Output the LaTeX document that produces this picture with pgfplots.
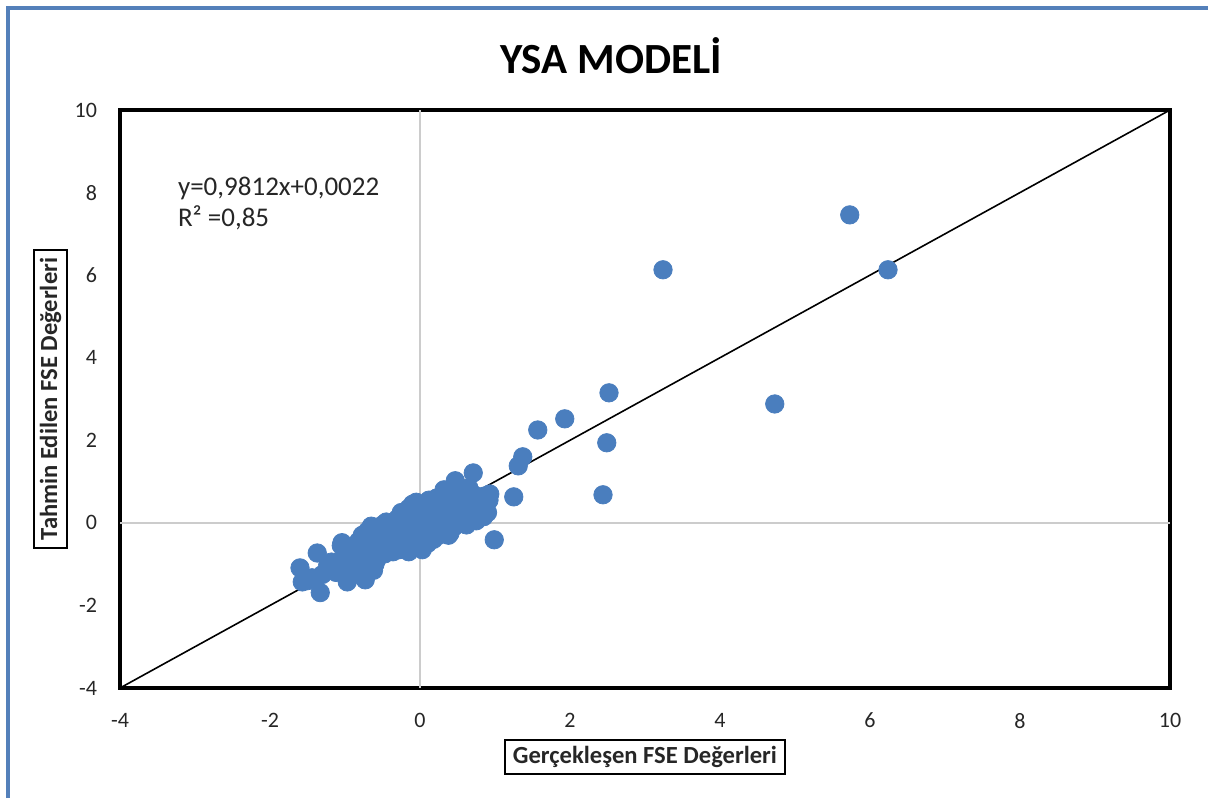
\documentclass[border=0pt]{standalone}
\usepackage{pgfplots}
\pgfplotsset{compat=1.18}
\usepackage{fontspec}
\setmainfont{Carlito}
\definecolor{ptblue}{RGB}{74,126,190}
\definecolor{frameblue}{RGB}{84,128,186}
\begin{document}
\begin{tikzpicture}
\begin{axis}[
  scale only axis, width=525pt, height=289pt,
  xmin=-4, xmax=10, ymin=-4, ymax=10,
  xtick={-4,-2,...,10}, ytick={-4,-2,...,10},
  major tick length=0pt,
  axis line style={line width=2.4pt, black},
  tick label style={font=\fontsize{11}{13}\selectfont, text=black!85},
  /pgf/number format/assume math mode=true,
  xticklabel style={yshift=-9pt},
  yticklabel style={xshift=-8pt},
  clip=false,
]
\addplot[gray!40, line width=0.8pt] coordinates {(0,-4) (0,10)};
\addplot[gray!40, line width=0.8pt] coordinates {(-4,0) (10,0)};
\addplot[only marks, mark=*, mark size=4.6pt, mark options={fill=ptblue, draw=ptblue}] coordinates {
(5.73,7.46) (6.24,6.13) (3.24,6.13) (4.73,2.88) (2.52,3.15) (2.49,1.94) (2.44,0.68)
(1.93,2.52) (1.57,2.25) (1.37,1.60) (1.31,1.38) (1.25,0.63) (0.99,-0.41)
(-1.60,-1.09) (-1.37,-0.73) (-1.33,-1.69) (-1.57,-1.43) (-1.44,-1.33) (-1.23,-1.02)
(-1.04,-0.48) (-1.30,-1.25) (-1.18,-0.95) (-1.50,-1.40)
(-1.05,-0.55) (-0.98,-0.62) (-0.92,-0.58) (-1.02,-0.85) (-0.95,-0.95) (-1.08,-1.05)
(-0.90,-1.10) (-0.97,-1.43) (-1.12,-1.20) (-0.86,-0.75) (-0.88,-1.25)
(-0.82,-0.45) (-0.78,-0.62) (-0.75,-0.85) (-0.80,-1.00) (-0.73,-1.38) (-0.72,-1.10)
(-0.77,-0.30) (-0.70,-0.20) (-0.68,-0.50) (-0.70,-0.70) (-0.74,-0.95)
(-0.65,-0.08) (-0.62,-0.30) (-0.60,-0.55) (-0.63,-0.75) (-0.58,-0.90) (-0.55,-0.12)
(-0.52,-0.40) (-0.50,-0.65) (-0.56,-0.80) (-0.60,-1.00) (-0.50,-0.05) (-0.53,-0.25)
(-0.45,0.02) (-0.43,-0.20) (-0.42,-0.45) (-0.40,-0.62) (-0.47,-0.75) (-0.38,-0.10)
(-0.35,-0.35) (-0.33,-0.55) (-0.36,-0.70) (-0.30,0.10) (-0.32,-0.25) (-0.30,-0.48) (-0.28,-0.65)
(-0.25,0.25) (-0.24,0.05) (-0.22,-0.15) (-0.20,-0.38) (-0.23,-0.55) (-0.18,-0.62)
(-0.15,0.35) (-0.14,0.12) (-0.12,-0.08) (-0.10,-0.30) (-0.13,-0.50) (-0.08,-0.60) (-0.10,0.45)
(-0.05,0.50) (-0.04,0.25) (-0.02,0.02) (0.00,-0.20) (-0.03,-0.42) (0.02,-0.58) (0.04,0.45)
(0.05,0.15) (0.06,-0.05) (0.08,-0.30) (0.10,-0.50) (0.10,0.30) (0.12,0.55) (0.00,0.35) (0.03,-0.65)
(0.15,0.05) (0.15,-0.20) (0.18,-0.40) (0.20,0.45) (0.20,0.20) (0.22,0.60) (0.24,-0.05)
(0.25,-0.30) (0.28,0.35) (0.30,0.10) (0.30,-0.15) (0.28,0.60) (0.32,0.80)
(0.35,0.50) (0.35,0.25) (0.38,-0.05) (0.38,-0.30) (0.40,0.70) (0.42,0.40) (0.44,0.15)
(0.45,-0.10) (0.48,0.55) (0.50,0.30) (0.50,0.05) (0.47,0.90) (0.52,0.75)
(0.55,0.50) (0.56,0.20) (0.58,-0.02) (0.60,0.62) (0.62,0.35) (0.65,0.10) (0.68,0.55)
(0.70,0.30) (0.72,0.68) (0.75,0.45) (0.78,0.20) (0.80,0.60) (0.82,0.35) (0.86,0.65)
(0.88,0.40) (0.90,0.25) (0.92,0.55) (0.93,0.70) (0.71,1.21) (0.47,1.02) (0.58,0.80) (0.65,0.85)
(0.62,-0.05) (0.85,0.15) (0.40,-0.25) (-0.15,-0.70) (-0.62,-1.15) (0.75,0.05)
};
\addplot[black, line width=0.8pt] coordinates {(-4,-4) (10,10)};
\node[anchor=west, font=\fontsize{13.5}{15}\selectfont, text=black!85] at ([xshift=25.5pt,yshift=-39pt]rel axis cs:0,1) {y=0,9812x+0,0022};
\node[anchor=west, font=\fontsize{13.5}{15}\selectfont, text=black!85] at ([xshift=25.5pt,yshift=-54pt]rel axis cs:0,1) {R² =0,85};
\end{axis}
\node[font=\bfseries\fontsize{21.5}{24}\selectfont] at ([xshift=-17pt,yshift=27pt]current axis.north) {YSA MODELİ};
\node[draw, line width=0.8pt, inner xsep=4pt, inner ysep=3pt, font=\bfseries\fontsize{12.3}{14}\selectfont, text=black!85] at ([yshift=-34.5pt]current axis.south) {Gerçekleşen FSE Değerleri};
\node[draw, line width=0.8pt, inner xsep=4pt, inner ysep=3pt, rotate=90, font=\bfseries\fontsize{12.3}{14}\selectfont, text=black!85] at ([xshift=-34.75pt]current axis.west) {Tahmin Edilen FSE Değerleri};
\draw[frameblue, line width=1.6pt] (-56pt,-55pt) -- (-56pt,340pt) -- (544pt,340pt);
\pgfresetboundingbox
\useasboundingbox (-60pt,-55pt) rectangle (544pt,344pt);
\end{tikzpicture}
\end{document}
